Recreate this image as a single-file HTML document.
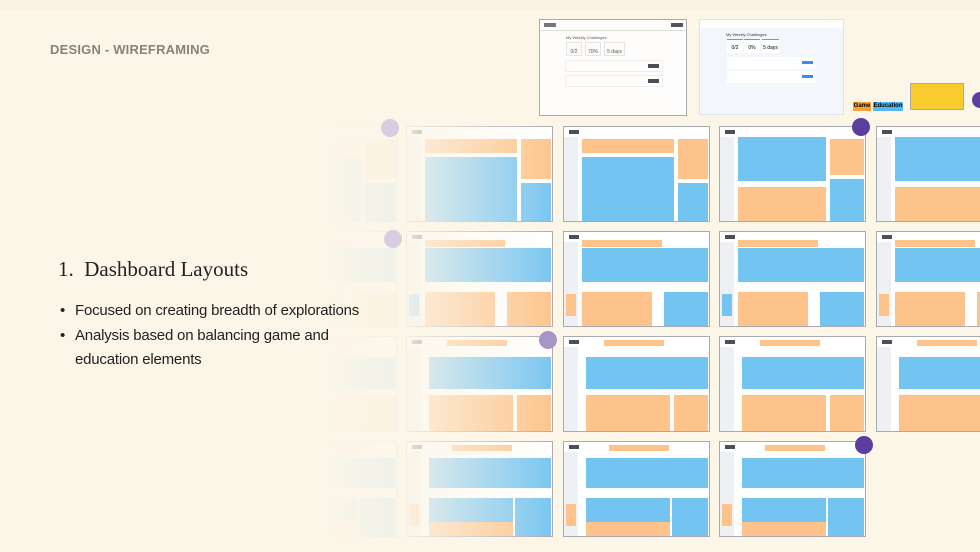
<!DOCTYPE html>
<html><head><meta charset="utf-8">
<style>
*{box-sizing:border-box;margin:0;padding:0}
body{width:980px;height:552px;overflow:hidden;background:#fcf6e9;position:relative;font-family:"Liberation Sans",sans-serif}
.abs{position:absolute}
.card{position:absolute;background:#fff;border:1px solid #a9aab0;overflow:hidden}
.b{position:absolute}
.blue{background:#74c4f2}
.orange{background:#fdc38a}
.gray{background:#eef0f3}
.dark{background:#4a4f5a}
.dot{position:absolute;border-radius:50%;background:#5b3e9e}
#fade{position:absolute;left:0;top:118px;width:600px;height:434px;background:linear-gradient(90deg,#fcf6e9 0,#fcf6e9 320px,rgba(252,246,233,.9) 400px,rgba(252,246,233,.5) 470px,rgba(252,246,233,0) 560px)}
</style></head><body>
<div class="abs" style="left:0;top:0;width:980px;height:10px;background:#faf3e3"></div>

<div class="card" style="left:539px;top:19px;width:148px;height:97px;background:#fefdfb">
 <div class="b" style="left:4px;top:3px;width:12px;height:4px;background:#777"></div>
 <div class="b" style="left:131px;top:3px;width:12px;height:4px;background:#555"></div>
 <div class="b" style="left:0;top:10px;width:148px;height:1px;background:#ddd"></div>
 <div class="b" style="left:26px;top:15px;font-size:4px;color:#555">My Weekly Challenges</div>
 <div class="b" style="left:26px;top:22px;width:16px;height:14px;border:1px solid #e5e5e5;font-size:5px;padding-top:6px;text-align:center;color:#555">0/2</div>
 <div class="b" style="left:45px;top:22px;width:16px;height:14px;border:1px solid #e5e5e5;font-size:5px;padding-top:6px;text-align:center;color:#555">70%</div>
 <div class="b" style="left:64px;top:22px;width:21px;height:14px;border:1px solid #e5e5e5;font-size:5px;padding-top:6px;text-align:center;color:#555">5 days</div>
 <div class="b" style="left:25px;top:40px;width:98px;height:12px;border:1px solid #eee"></div>
 <div class="b" style="left:25px;top:55px;width:98px;height:12px;border:1px solid #eee"></div>
 <div class="b dark" style="left:108px;top:44px;width:11px;height:4px"></div>
 <div class="b dark" style="left:108px;top:59px;width:11px;height:4px"></div>
</div>
<div class="card" style="left:699px;top:19px;width:145px;height:96px;background:#f3f6fb;border-color:#e0e4ea">
 <div class="b" style="left:0;top:0;width:145px;height:8px;background:#fff"></div>
 <div class="b" style="left:26px;top:12px;font-size:4px;color:#333">My Weekly Challenges</div>
 <div class="b" style="left:27px;top:19px;width:16px;height:14px;background:#fff;border-top:1px solid #5a9ef0;font-size:5px;padding-top:5px;text-align:center">0/2</div>
 <div class="b" style="left:44px;top:19px;width:16px;height:14px;background:#fff;border-top:1px solid #5a9ef0;font-size:5px;padding-top:5px;text-align:center">0%</div>
 <div class="b" style="left:62px;top:19px;width:17px;height:14px;background:#fff;border-top:1px solid #5a9ef0;font-size:5px;padding-top:5px;text-align:center">5 days</div>
 <div class="b" style="left:27px;top:37px;width:89px;height:12px;background:#fff"></div>
 <div class="b" style="left:27px;top:51px;width:89px;height:12px;background:#fff"></div>
 <div class="b" style="left:102px;top:41px;width:11px;height:3px;background:#3a8ef0"></div>
 <div class="b" style="left:102px;top:55px;width:11px;height:3px;background:#3a8ef0"></div>
</div>
<div class="abs" style="left:853px;top:102px;width:18px;height:9px;background:#f6a13b;font-size:6px;font-weight:bold;text-align:center;line-height:9px">Game</div>
<div class="abs" style="left:873px;top:102px;width:30px;height:9px;background:#55b8ee;font-size:6px;font-weight:bold;text-align:center;line-height:9px">Education</div>
<div class="abs" style="left:910px;top:83px;width:54px;height:27px;background:#f7cc2c;border:1px solid #aaa"></div>

<div id="grid"></div>
<div id="fade"></div>

<div class="dot" style="left:972px;top:92px;width:16px;height:16px"></div>
<div class="dot" style="left:852px;top:118px;width:18px;height:18px"></div>
<div class="dot" style="left:381px;top:119px;width:18px;height:18px;background:#d6cde0"></div>
<div class="dot" style="left:384px;top:230px;width:18px;height:18px;background:#d6cde0"></div>
<div class="dot" style="left:539px;top:331px;width:18px;height:18px;background:#a795c8"></div>
<div class="dot" style="left:855px;top:436px;width:18px;height:18px"></div>

<div class="abs" style="left:50px;top:42px;font-family:'Liberation Sans',sans-serif;font-weight:bold;font-size:13px;color:#85837a;letter-spacing:0.2px">DESIGN - WIREFRAMING</div>
<div class="abs" style="left:58px;top:257px;font-family:'Liberation Serif',serif;font-size:21px;color:#222">1.&nbsp; Dashboard Layouts</div>
<ul class="abs" style="left:60px;top:299px;width:420px;list-style:none;font-size:15px;line-height:24.5px;color:#222;letter-spacing:-0.2px">
 <li style="padding-left:15px;position:relative;white-space:nowrap"><span style="position:absolute;left:0">•</span>Focused on creating breadth of explorations</li>
 <li style="padding-left:15px;position:relative"><span style="position:absolute;left:0">•</span>Analysis based on balancing game and<br>education elements</li>
</ul>

<script>
var colX=[250,406,563,719,876];
var rowY=[126,231,336,441];
var grid=document.getElementById('grid');
function box(card,cls,l,t,w,h){
  var d=document.createElement('div');
  d.className='b '+cls;
  d.style.cssText='left:'+l+'px;top:'+t+'px;width:'+w+'px;height:'+h+'px';
  
  
  card.appendChild(d);
}
for(var r=0;r<4;r++){
 for(var c=0;c<5;c++){
  if(r==3&&c==4) continue;
  var card=document.createElement('div');
  card.className='card';
  card.style.cssText='left:'+colX[c]+'px;top:'+rowY[r]+'px;width:147px;height:96px';
  
  
  grid.appendChild(card);
  box(card,'dark',5,3,10,4);
  box(card,'gray',0,10,14,86);
  if(r==0){
    if(c<=2){
      box(card,'orange',18,12,92,14);
      box(card,'blue',18,30,92,64);
      box(card,'orange',114,12,30,40);
      box(card,'blue',114,56,30,38);
    }else{
      box(card,'blue',18,10,88,44);
      box(card,'orange',18,60,88,34);
      box(card,c==3?'orange':'blue',110,12,34,36);
      box(card,'blue',110,52,34,42);
    }
  }else if(r==1){
    box(card,'orange',18,8,80,7);
    box(card,'blue',18,16,126,34);
    box(card,'orange',18,60,70,34);
    box(card,c==2||c==3?'blue':'orange',100,60,44,34);
    box(card,c%2?'blue':'orange',2,62,10,22);
  }else if(r==2){
    box(card,'orange',40,3,60,6);
    box(card,'blue',22,20,122,32);
    box(card,'orange',22,58,84,36);
    box(card,'orange',110,58,34,36);
  }else{
    box(card,'orange',45,3,60,6);
    box(card,'blue',22,16,122,30);
    box(card,'blue',22,56,84,24);
    box(card,'orange',22,80,84,16);
    box(card,'blue',108,56,36,40);
    box(card,'orange',2,62,10,22);
  }
 }
}
</script>
</body></html>
